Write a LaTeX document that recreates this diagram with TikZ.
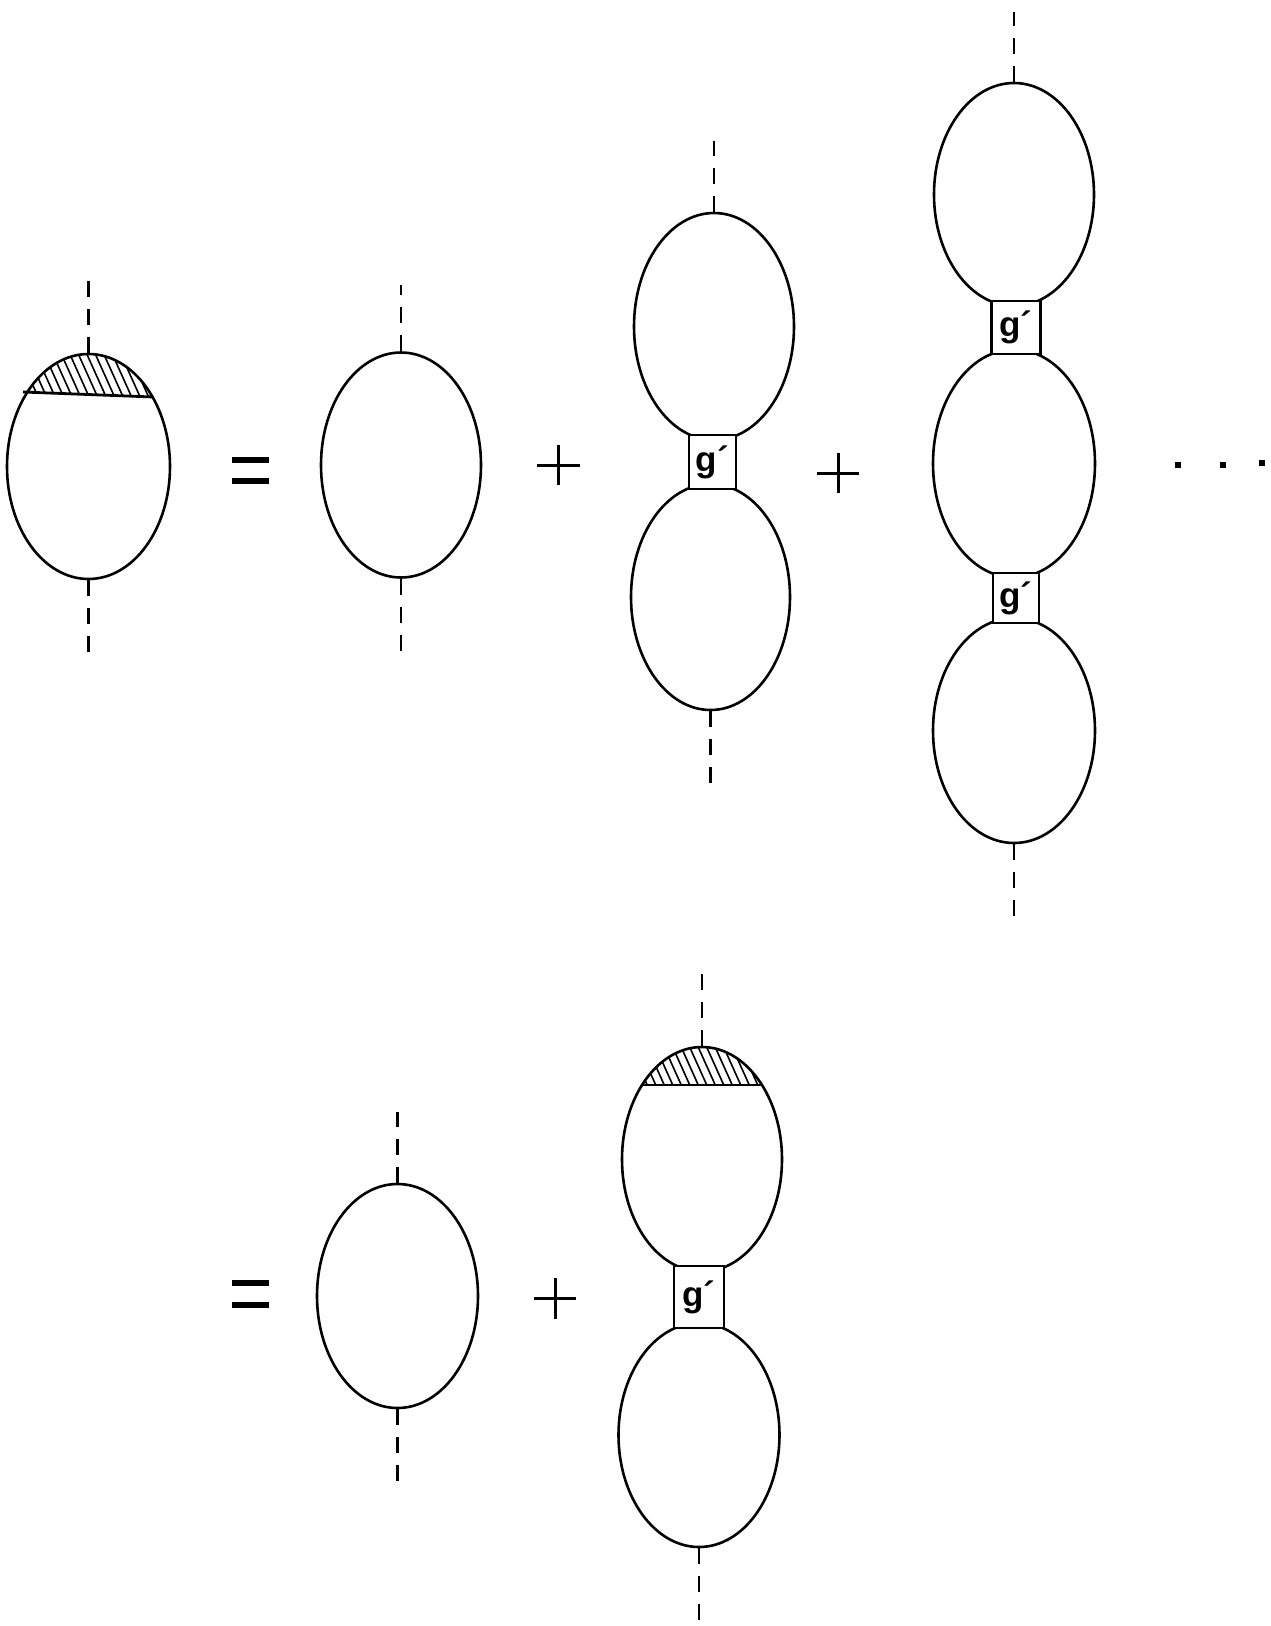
\documentclass[tikz,border=0pt]{standalone}
\usepackage{fontspec}
\setmainfont{Liberation Sans}
\usetikzlibrary{shapes.geometric}
\begin{document}
\begin{tikzpicture}[x=1pt,y=-1pt,
  bub/.style={draw, ellipse, line width=2.6pt, inner sep=0pt},
  gbox/.style={draw, fill=white, line width=2.4pt, inner sep=0pt, font=\bfseries\fontsize{35}{35}\selectfont},
  leg/.style={line width=2.8pt, dash pattern=on 16pt off 12pt},
  hatchline/.style={line width=1.6pt},
  cutline/.style={line width=2.8pt},
  opbar/.style={line width=5.5pt},
  plusbar/.style={line width=3pt}]
\path[use as bounding box] (0,0) rectangle (1271,1626);

% ---------- A : hatched bubble (top left)
\node[bub, minimum width=163pt, minimum height=225pt] (A) at (88.5,466.5) {};
\begin{scope}
  \clip (88.5,466.5) ellipse [x radius=81.5pt, y radius=112.5pt];
  \clip (0,300) -- (0,391.3) -- (23,392) -- (153,397) -- (200,398.6) -- (200,300) -- cycle;
  \foreach \i in {0,...,34} \draw[hatchline] ({-30+8.5*\i},340) -- ++(45,100);
\end{scope}
\draw[cutline] (23,392) -- (153,397);
\coordinate (Atop) at (88.5,280);
\coordinate (Abot) at (88.5,653);
\draw[leg] (A.north) -- (Atop);
\draw[leg] (A.south) -- (Abot);

% = sign
\draw[opbar] (232,460) -- (269,460);
\draw[opbar] (232,481) -- (269,481);

% ---------- B : plain bubble
\node[bub, minimum width=160pt, minimum height=225pt] (B) at (401,465) {};
\coordinate (Btop) at (401,285);
\coordinate (Bbot) at (401,655);
\draw[leg] (B.north) -- (Btop);
\draw[leg] (B.south) -- (Bbot);

% + sign
\draw[plusbar] (537,465) -- (580,465);
\draw[plusbar] (558,445) -- (558,485);

% ---------- C : two bubbles with g'
\node[bub, minimum width=160pt, minimum height=227pt] (C1) at (714,326.5) {};
\node[bub, minimum width=159pt, minimum height=226pt] (C2) at (710.5,597) {};
\node[gbox, minimum width=47pt, minimum height=54pt] (Cg) at (712.5,462) {g´};
\coordinate (Ctop) at (714,141);
\coordinate (Cbot) at (710.5,785);
\draw[leg] (C1.north) -- (Ctop);
\draw[leg] (C2.south) -- (Cbot);

% + sign
\draw[plusbar] (817,473) -- (859,473);
\draw[plusbar] (838,453) -- (838,493);

% ---------- D : three bubbles with two g'
\node[bub, minimum width=160pt, minimum height=223pt] (D1) at (1014,194.5) {};
\node[bub, minimum width=162pt, minimum height=228pt] (D2) at (1014,463.5) {};
\node[bub, minimum width=162pt, minimum height=225pt] (D3) at (1014,730.5) {};
\node[gbox, minimum width=49pt, minimum height=53pt] (Dg1) at (1016,327.5) {g´};
\node[gbox, minimum width=46pt, minimum height=50pt] (Dg2) at (1016,598) {g´};
\coordinate (Dtop) at (1014,12);
\coordinate (Dbot) at (1014,920);
\draw[leg] (D1.north) -- (Dtop);
\draw[leg] (D3.south) -- (Dbot);

% dots
\fill (1175,462) rectangle (1181,468);
\fill (1220,462) rectangle (1226,468);
\fill (1259,460) rectangle (1265,466);

% ---------- bottom row
\draw[opbar] (232,1283) -- (269,1283);
\draw[opbar] (232,1305) -- (269,1305);

\node[bub, minimum width=161pt, minimum height=224pt] (E) at (397.5,1296) {};
\coordinate (Etop) at (397.5,1112);
\coordinate (Ebot) at (397.5,1483);
\draw[leg] (E.north) -- (Etop);
\draw[leg] (E.south) -- (Ebot);

\draw[plusbar] (534,1298) -- (576,1298);
\draw[plusbar] (555,1278) -- (555,1319);

\node[bub, minimum width=160pt, minimum height=224.6pt] (F1) at (702,1159.3) {};
\node[bub, minimum width=161pt, minimum height=224pt] (F2) at (699,1435) {};
\begin{scope}
  \clip (702,1159.3) ellipse [x radius=80pt, y radius=112.3pt];
  \clip (600,1000) rectangle (800,1085);
  \foreach \i in {0,...,34} \draw[hatchline] ({580+8.5*\i},1030) -- ++(45,100);
\end{scope}
\draw[cutline] (641,1085) -- (763,1085);
\node[gbox, minimum width=50pt, minimum height=62pt] (Fg) at (699,1297) {g´};
\coordinate (Ftop) at (702,970);
\coordinate (Fbot) at (699,1622);
\draw[leg] (F1.north) -- (Ftop);
\draw[leg] (F2.south) -- (Fbot);
\end{tikzpicture}
\end{document}
